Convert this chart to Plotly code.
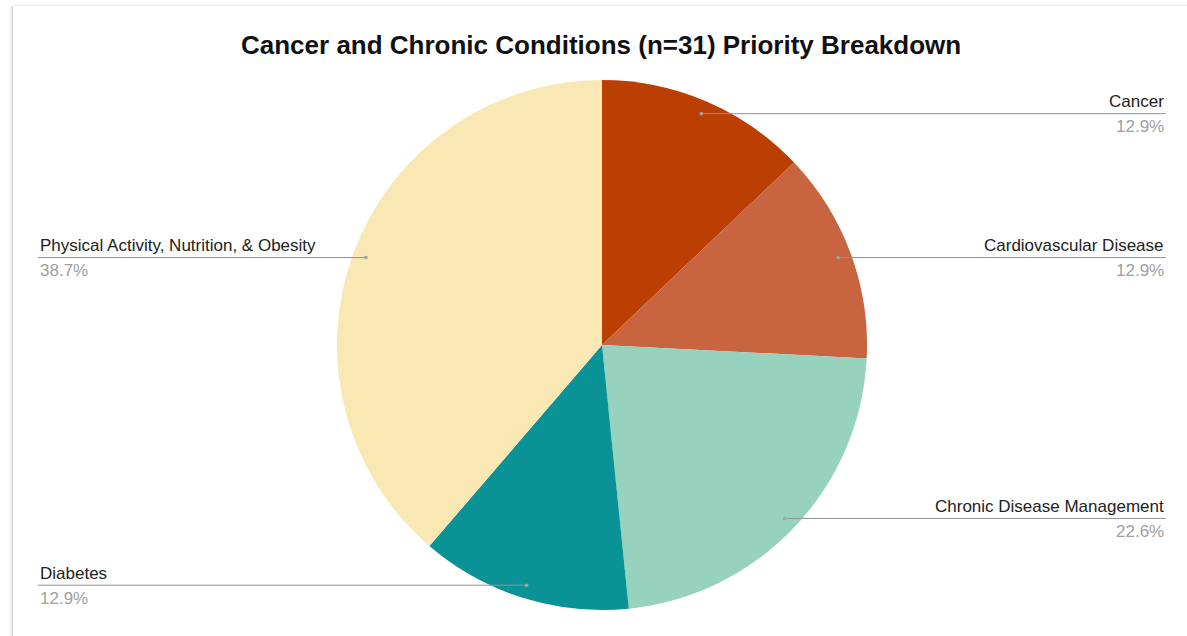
import math
import plotly.graph_objects as go

# Priority counts for the cancer & chronic conditions group (n=31)
categories = [
    "Cancer",
    "Cardiovascular Disease",
    "Chronic Disease Management",
    "Diabetes",
    "Physical Activity, Nutrition, & Obesity",
]
counts = [4, 4, 7, 4, 12]
colors = ["#BB3E03", "#C8643F", "#96D2BD", "#0A9396", "#F9E8B3"]

W, H = 1187, 636
CX, CY, R = 602, 345, 265          # pie centre and radius, in pixels
LEFT_X, RIGHT_X = 38, 1166          # label columns
DOT_FRAC = 0.95                     # leader line starts this far out from centre
FONT = "Liberation Sans, Arial, sans-serif"

fig = go.Figure()

fig.add_trace(go.Pie(
    labels=categories,
    values=counts,
    marker=dict(colors=colors, line=dict(width=0)),
    sort=False,
    direction="clockwise",
    rotation=0,
    textinfo="none",
    hoverinfo="label+percent",
    showlegend=False,
    domain=dict(x=[(CX - R) / W, (CX + R) / W],
                y=[(H - CY - R) / H, (H - CY + R) / H]),
))

# soft card edge along the left and top
shapes = []
for i, c in enumerate(["#f4f4f4", "#e6e6e6", "#d6d6d6"]):
    shapes.append(dict(type="rect", xref="x", yref="y",
                       x0=10 + i, x1=11 + i, y0=6, y1=H,
                       line=dict(width=0), fillcolor=c, layer="below"))
for i, c in enumerate(["#f7f7f7", "#eeeeee"]):
    shapes.append(dict(type="rect", xref="x", yref="y",
                       x0=13, x1=W, y0=4 + i, y1=5 + i,
                       line=dict(width=0), fillcolor=c, layer="below"))

total = sum(counts)
annotations = []
cum = 0
for name, v in zip(categories, counts):
    mid = (cum + v / 2) / total * 2 * math.pi
    cum += v
    dx = math.sin(mid) * R * DOT_FRAC
    dy = -math.cos(mid) * R * DOT_FRAC
    px, py = CX + dx, CY + dy
    right = dx >= 0
    end_x = RIGHT_X if right else LEFT_X
    # leader line drawn over the slices, with a small dot at its inner end
    shapes.append(dict(type="line", xref="x", yref="y",
                       x0=px, x1=end_x, y0=py, y1=py,
                       line=dict(color="#929292", width=1), layer="above"))
    shapes.append(dict(type="circle", xref="x", yref="y",
                       x0=px - 1.8, x1=px + 1.8, y0=py - 1.8, y1=py + 1.8,
                       line=dict(width=0), fillcolor="#a3a3a3", layer="above"))
    pct = f"{v / total * 100:.1f}%"
    anchor = "right" if right else "left"
    annotations.append(dict(
        x=end_x, y=py - 12, xref="x", yref="y", text=name, showarrow=False,
        xanchor=anchor, yanchor="middle",
        font=dict(family=FONT, size=17, color="#222222"),
    ))
    annotations.append(dict(
        x=end_x, y=py + 13, xref="x", yref="y", text=pct, showarrow=False,
        xanchor=anchor, yanchor="middle",
        font=dict(family=FONT, size=17, color="#a0a0a0"),
    ))

annotations.append(dict(
    x=601, y=45, xref="x", yref="y",
    text="<b>Cancer and Chronic Conditions (n=31) Priority Breakdown</b>",
    showarrow=False, xanchor="center", yanchor="middle",
    font=dict(family=FONT, size=26, color="#111111"),
))

fig.update_layout(
    width=W, height=H,
    margin=dict(l=0, r=0, t=0, b=0),
    paper_bgcolor="white", plot_bgcolor="rgba(0,0,0,0)",
    xaxis=dict(range=[0, W], domain=[0, 1], visible=False, fixedrange=True),
    yaxis=dict(range=[H, 0], domain=[0, 1], visible=False, fixedrange=True),
    annotations=annotations,
    shapes=shapes,
)

fig.write_html("out.html")
